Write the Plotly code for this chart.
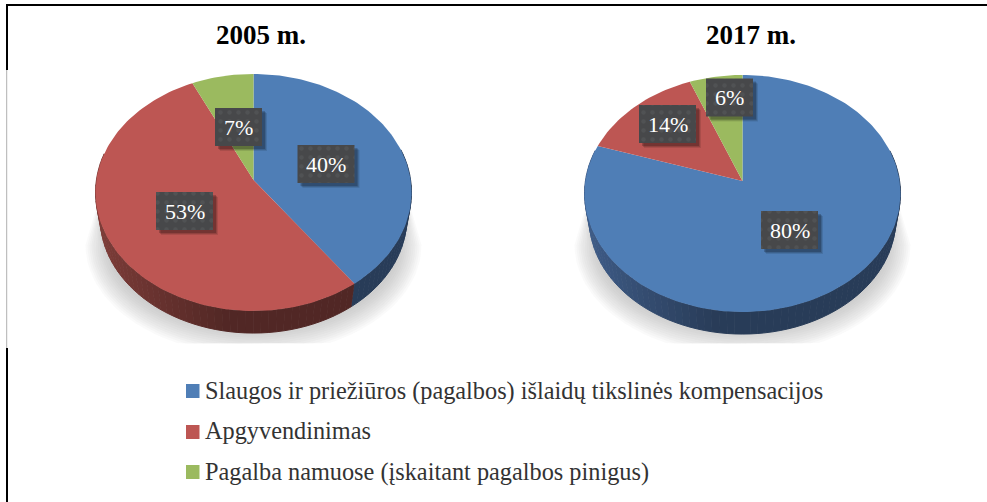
import math
import plotly.graph_objects as go

# ---- data ----
years = ["2005 m.", "2017 m."]
categories = [
    "Slaugos ir priežiūros (pagalbos) išlaidų tikslinės kompensacijos",
    "Apgyvendinimas",
    "Pagalba namuose (įskaitant pagalbos pinigus)",
]
values_2005 = [40, 53, 7]
values_2017 = [80, 14, 6]

# ---- style and layout ----
W, H = 987, 502
TOP = ["#4f7eb6", "#bd5653", "#9bba5f"]
SIDE = [(64, 94, 138), (128, 62, 58), (100, 125, 60)]
SERIF = "Liberation Serif"
PIES = [
    dict(cx=253.5, cy=180, title_x=260.5, values=values_2005,
         labels=[(326, 164), (184.5, 211), (238.5, 127)]),
    dict(cx=742.5, cy=181, title_x=751, values=values_2017,
         labels=[(789.5, 230), (667.5, 124), (729.5, 97.5)]),
]
A, C, E = 117.2, 0.1053, 157.1   # perspective of the disc
DROP, SHRINK = 26, 0.97          # rim of the base

fig = go.Figure()


def poly(xs, ys, color, opacity=1.0, edge=0):
    fig.add_trace(go.Scatter(x=xs, y=ys, mode="lines", fill="toself", fillcolor=color,
                             line=dict(width=edge, color=color), opacity=opacity,
                             hoverinfo="skip", showlegend=False))


def rim(p, turn):
    th = 2 * math.pi * turn
    u, v = math.sin(th), math.cos(th)
    d = 1 + C * v
    return E * u / d, A * v / d


def top_pt(p, turn):
    x, y = rim(p, turn)
    return p["cx"] + x, p["cy"] - y


def base_pt(p, turn):
    x, y = rim(p, turn)
    return p["cx"] + SHRINK * x, p["cy"] - SHRINK * y + DROP


def spans(vals):
    total, acc, out = sum(vals), 0, []
    for i, v in enumerate(vals):
        out.append((i, acc / total, (acc + v) / total))
        acc += v
    return out


def side_shade(turn):
    # lit at the far left, falling to a dark front and right
    th = 2 * math.pi * turn
    return 1.0 - 0.36 * min(1.0, max(0.0, (math.sin(th) + 1) / 0.85))


for p in PIES:
    # soft ground shadow, built from stacked translucent layers, cut flat at the bottom
    n = 12
    for k in range(n):
        t = k / (n - 1)
        hw = 168 - 22 * t
        ry = 110 - 24 * t
        yc = 245
        xs, ys = [p["cx"] - 155, ], [200 + 25 * t]
        for j in range(0, 61):
            a = math.pi * j / 60
            xs.append(p["cx"] - hw * math.cos(a))
            ys.append(min(343.5, yc + ry * math.sin(a)))
        xs.append(p["cx"] + 155)
        ys.append(200 + 25 * t)
        poly(xs, ys, "#9a9da1", opacity=0.05)

    # side wall of the disc, in narrow shaded bands so that it fades along the rim
    for i, a0, a1 in spans(p["values"]):
        steps = max(1, int((a1 - a0) * 140))
        for s in range(steps):
            t0 = a0 + (a1 - a0) * s / steps
            t1 = a0 + (a1 - a0) * (s + 1) / steps
            mid = (t0 + t1) / 2
            if math.cos(2 * math.pi * mid) > 0.25:
                continue
            ts = [t0 + (t1 - t0) * q / 3 for q in range(4)]
            pts = [top_pt(p, q) for q in ts] + [base_pt(p, q) for q in reversed(ts)]
            f = side_shade(mid)
            r, g, b = SIDE[i]
            poly([q[0] for q in pts], [q[1] for q in pts],
                 f"rgb({int(r*f)},{int(g*f)},{int(b*f)})", edge=1)

    # top face
    for i, a0, a1 in spans(p["values"]):
        steps = max(4, int((a1 - a0) * 240))
        pts = [(p["cx"], p["cy"])] + [top_pt(p, a0 + (a1 - a0) * q / steps) for q in range(steps + 1)]
        poly([q[0] for q in pts], [q[1] for q in pts], TOP[i])

    # value boxes
    for (lx, ly), v in zip(p["labels"], p["values"]):
        hw = 23.5 if v < 10 else 28.5
        hh = 19
        for off, op in ((5, 0.10), (4, 0.14), (3, 0.2)):
            poly([lx - hw + off, lx + hw + off, lx + hw + off, lx - hw + off, lx - hw + off],
                 [ly - hh + off, ly - hh + off, ly + hh + off, ly + hh + off, ly - hh + off],
                 "#000000", opacity=op)
        fig.add_trace(go.Scatter(
            x=[lx - hw, lx + hw, lx + hw, lx - hw, lx - hw],
            y=[ly - hh, ly - hh, ly + hh, ly + hh, ly - hh],
            mode="lines", fill="toself", line=dict(width=0), hoverinfo="skip", showlegend=False,
            fillcolor="#47484a",
            fillpattern=dict(shape=".", size=9, solidity=0.18, fgcolor="#5a5b5d", bgcolor="#47484a"),
        ))
        fig.add_annotation(x=lx, y=ly, text=f"{v}%", showarrow=False,
                           font=dict(family=SERIF, size=22, color="#ffffff"))

for p, year in zip(PIES, years):
    fig.add_annotation(x=p["title_x"], y=35, text=f"<b>{year}</b>", showarrow=False,
                       font=dict(family=SERIF, size=27, color="#000000"))

# legend
for cat, col, yy, ty in zip(categories, TOP, (391, 432, 472), (390.5, 430.5, 471.5)):
    poly([186, 199.5, 199.5, 186, 186], [yy - 7, yy - 7, yy + 7, yy + 7, yy - 7], col)
    fig.add_annotation(x=203, y=ty, text=cat, xanchor="left", showarrow=False,
                       font=dict(family=SERIF, size=24.3, color="#333333"))

# page frame
fig.add_shape(type="line", x0=6, x1=987, y0=5, y1=5, line=dict(color="#000000", width=2))
fig.add_shape(type="line", x0=7, x1=7, y0=4, y1=70, line=dict(color="#000000", width=2))
fig.add_shape(type="line", x0=6.7, x1=6.7, y0=70, y1=348, line=dict(color="#b0b0b0", width=1))
fig.add_shape(type="line", x0=7, x1=7, y0=348, y1=502, line=dict(color="#000000", width=2))

axis = dict(visible=False, fixedrange=True)
fig.update_layout(
    width=W, height=H, margin=dict(l=0, r=0, t=0, b=0),
    paper_bgcolor="#ffffff", plot_bgcolor="#ffffff", showlegend=False,
    xaxis=dict(range=[0, W], **axis), yaxis=dict(range=[H, 0], **axis),
)
fig.write_html("out.html", config={"displayModeBar": False},
               post_script="document.body.style.margin='0';document.body.style.overflow='hidden';")
